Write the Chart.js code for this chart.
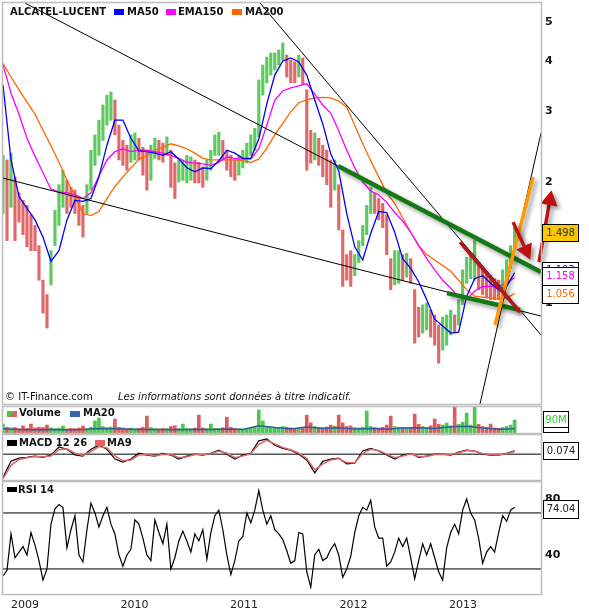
<!DOCTYPE html>
<html>
<head>
<meta charset="utf-8">
<title>ALCATEL-LUCENT</title>
<script src="https://cdn.jsdelivr.net/npm/chart.js@4.4.1/dist/chart.umd.min.js"></script>
<style>
  body { margin:0; background:#fff; }
  #wrap { position:relative; width:589px; height:615px; overflow:hidden; font-family:"DejaVu Sans", Verdana, sans-serif; color:#111; }
  #wrap canvas { position:absolute; left:0; top:0; }
  .t { position:absolute; white-space:nowrap; font-size:10px; line-height:12px; }
  .b { font-weight:bold; }
  .i { font-style:italic; }
  .sq { position:absolute; width:10px; height:6px; }
  .box { position:absolute; box-sizing:border-box; border:1px solid #000; background:#fff; font-size:10px; line-height:16px; text-align:center; color:#222; overflow:hidden; }
</style>
</head>
<body>
<div id="wrap">
  <canvas id="cPrice" width="589" height="615"></canvas>
  <canvas id="cVol" width="589" height="615"></canvas>
  <canvas id="cMacd" width="589" height="615"></canvas>
  <canvas id="cRsi" width="589" height="615"></canvas>

  <div class="t b" style="left:10px;top:6px">ALCATEL-LUCENT</div>
  <div class="sq" style="left:114px;top:9px;background:#0000ff"></div>
  <div class="t b" style="left:127px;top:6px">MA50</div>
  <div class="sq" style="left:166px;top:9px;background:#ff00ff"></div>
  <div class="t b" style="left:178px;top:6px">EMA150</div>
  <div class="sq" style="left:232px;top:9px;background:#ff6600"></div>
  <div class="t b" style="left:245px;top:6px">MA200</div>

  <div class="t" style="left:5px;top:391px">© IT-Finance.com</div>
  <div class="t i" style="left:118px;top:391px">Les informations sont données à titre indicatif.</div>

  <div class="box" style="left:542px;top:224px;width:37px;height:18px;background:#ffc600;color:#333">1.498</div>
  <div class="box" style="left:542px;top:262px;width:37px;height:18px;line-height:13px;color:#0000ff">1.193</div>
  <div class="box" style="left:542px;top:267px;width:37px;height:19px;color:#ff00ff">1.158</div>
  <div class="box" style="left:542px;top:285px;width:37px;height:19px;color:#ff6600">1.056</div>

  <div class="sq" style="left:7px;top:411px;background:linear-gradient(135deg,#44c844 50%,#e06060 50%)"></div>
  <div class="t b" style="left:19px;top:407px">Volume</div>
  <div class="sq" style="left:70px;top:411px;background:#3465a4"></div>
  <div class="t b" style="left:83px;top:407px">MA20</div>
  <div class="box" style="left:543px;top:411px;width:26px;height:17px;line-height:15px;color:#33cc33">90M</div>
  <div class="box" style="left:543px;top:427px;width:26px;height:6px"></div>

  <div class="sq" style="left:7px;top:440px;background:#000"></div>
  <div class="t b" style="left:19px;top:437px">MACD 12 26</div>
  <div class="sq" style="left:95px;top:440px;background:#e06666"></div>
  <div class="t b" style="left:107px;top:437px">MA9</div>
  <div class="box" style="left:543px;top:442px;width:36px;height:18px">0.074</div>

  <div class="sq" style="left:7px;top:487px;height:5px;background:#000"></div>
  <div class="t b" style="left:18px;top:484px">RSI 14</div>
  <div class="box" style="left:543px;top:500px;width:36px;height:19px">74.04</div>
</div>

<script>
// time axis in decimal years, one bar every ~13 days
const T0 = 2008.80, STEP = 0.0365;
const XMIN = 2008.80, XMAX = 2013.713;

// price range of each bar (EUR)
const hi = [
  2.33,2.27,2.36,2.06,1.88,1.80,1.75,1.66,1.56,1.39,
  1.14,1.05,1.35,1.70,1.97,2.14,2.02,1.94,1.91,1.84,
  1.75,1.97,2.40,2.62,2.85,3.11,3.29,3.35,3.20,2.77,
  2.54,2.47,2.62,2.65,2.57,2.44,2.40,2.47,2.57,2.54,
  2.50,2.59,2.40,2.23,2.27,2.27,2.33,2.31,2.27,2.24,
  2.18,2.27,2.40,2.62,2.66,2.54,2.40,2.33,2.27,2.33,
  2.40,2.50,2.62,2.72,3.59,3.91,4.09,4.19,4.19,4.26,
  4.44,4.14,4.02,3.98,4.14,4.07,3.39,2.69,2.65,2.57,
  2.47,2.40,2.27,2.27,1.97,1.52,1.32,1.35,1.32,1.43,
  1.56,1.75,1.94,1.88,1.82,1.77,1.66,1.29,1.35,1.35,
  1.32,1.33,1.29,1.08,0.977,0.99,1.00,0.961,0.934,0.882,
  0.923,0.934,0.961,0.934,1.02,1.21,1.30,1.32,1.43,1.26,
  1.22,1.19,1.17,1.15,1.14,1.21,1.28,1.39,1.54
];
const lo = [
  1.67,1.43,1.73,1.43,1.59,1.48,1.38,1.35,1.35,1.14,
  0.944,0.867,1.11,1.39,1.56,1.73,1.67,1.73,1.67,1.56,
  1.46,1.67,1.91,2.20,2.33,2.54,2.77,2.85,2.62,2.27,
  2.20,2.14,2.24,2.27,2.27,2.08,1.91,2.02,2.29,2.27,
  2.24,2.33,1.94,1.82,2.00,2.02,1.99,2.02,1.99,1.99,
  1.94,2.02,2.14,2.33,2.33,2.27,2.14,2.06,2.02,2.08,
  2.17,2.23,2.33,2.40,2.59,3.29,3.53,3.69,3.80,3.91,
  4.02,3.65,3.53,3.53,3.65,3.49,2.14,2.23,2.27,2.20,
  2.06,1.97,1.73,1.91,1.52,1.10,1.14,1.10,1.17,1.26,
  1.39,1.48,1.67,1.67,1.61,1.54,1.32,1.08,1.11,1.12,
  1.14,1.16,1.12,0.795,0.823,0.842,0.857,0.823,0.786,0.709,
  0.764,0.786,0.833,0.842,0.882,0.99,1.12,1.15,1.14,1.08,
  1.05,1.03,1.02,1.02,1.02,1.08,1.13,1.22,1.35
];

// moving averages, one value every 2 bars
const ma50 = [
  3.49,2.27,1.84,1.72,1.61,1.46,1.27,1.35,1.61,1.80,
  1.79,1.82,2.06,2.47,2.85,2.85,2.57,2.39,2.38,2.36,
  2.33,2.38,2.28,2.17,2.12,2.17,2.16,2.26,2.40,2.36,
  2.29,2.29,2.56,3.13,3.69,4.00,4.07,3.98,3.69,3.20,
  2.79,2.35,2.13,1.67,1.38,1.28,1.49,1.69,1.68,1.50,
  1.29,1.22,1.13,1.02,0.912,0.877,0.842,0.847,1.04,1.15,
  1.17,1.12,1.08,1.10,1.19
];
const ema150 = [
  3.91,3.33,2.95,2.57,2.32,2.11,1.92,1.89,1.88,1.86,
  1.82,1.88,2.07,2.27,2.38,2.42,2.38,2.40,2.40,2.38,
  2.36,2.33,2.29,2.24,2.23,2.22,2.20,2.24,2.31,2.29,
  2.28,2.28,2.42,2.77,3.20,3.37,3.43,3.47,3.51,3.31,
  3.11,2.97,2.68,2.40,2.17,2.00,1.90,1.86,1.78,1.68,
  1.60,1.50,1.39,1.29,1.21,1.14,1.09,1.035,1.023,1.07,
  1.10,1.10,1.10,1.12,1.158
];
const ma200 = [
  3.95,3.65,3.39,3.16,2.95,2.69,2.46,2.24,2.02,1.85,
  1.67,1.65,1.69,1.82,1.95,2.06,2.17,2.28,2.33,2.40,
  2.44,2.49,2.46,2.42,2.36,2.29,2.27,2.27,2.27,2.27,
  2.26,2.24,2.28,2.43,2.62,2.80,2.99,3.15,3.20,3.24,
  3.25,3.24,3.18,3.07,2.77,2.49,2.26,2.06,1.88,1.77,
  1.63,1.50,1.39,1.32,1.28,1.24,1.20,1.14,1.08,1.04,
  1.035,1.03,1.023,1.03,1.056
];

// volume in millions, one per bar; MA20 every 4 bars
const vol = [
  62,40,35,38,30,50,32,62,35,40,
  38,55,36,30,34,48,28,32,30,35,
  48,30,40,83,103,45,38,42,97,40,
  36,30,34,28,32,40,117,38,30,28,
  32,30,45,50,32,62,30,28,34,124,
  35,30,62,32,30,36,110,40,32,30,
  28,30,32,40,159,83,45,40,35,38,
  45,40,36,32,34,40,124,70,45,40,
  38,42,55,48,124,70,45,50,38,35,
  40,152,45,38,35,40,55,117,45,40,
  36,34,40,131,60,45,40,50,97,60,
  55,69,50,180,60,75,138,55,180,60,
  45,40,62,35,32,38,45,55,90
];
const volMa20 = [
  30,25,22,24,22,24,32,30,26,24,
  25,22,26,24,27,24,50,38,28,42,
  32,36,28,32,26,34,36,32,44,46,
  34,26,30
];

// MACD 12 26 and its MA9, one value every 2 bars
const macd = [
  -0.52,-0.16,-0.09,-0.07,-0.045,-0.07,-0.02,0.16,0.11,-0.02,
  -0.045,0.11,0.20,0.11,-0.11,-0.18,-0.11,0.02,-0.02,-0.045,
  0.02,-0.02,-0.11,-0.045,0,-0.02,0.02,0.09,0,-0.11,
  -0.02,0.02,0.30,0.34,0.20,0.13,0.09,0,-0.13,-0.42,
  -0.16,-0.11,-0.09,-0.22,-0.20,0.07,0.13,0.07,-0.02,-0.11,
  -0.02,0.02,-0.07,-0.045,0,0,-0.02,0.045,0.09,0.07,
  0,-0.02,-0.02,0.02,0.074
];
const macdMa9 = [
  -0.55,-0.25,-0.12,-0.08,-0.05,-0.06,-0.04,0.10,0.12,0.02,
  -0.03,0.06,0.17,0.14,-0.04,-0.15,-0.13,-0.02,-0.01,-0.04,
  0.0,-0.01,-0.08,-0.06,-0.01,-0.01,0.01,0.07,0.02,-0.08,
  -0.04,0.01,0.22,0.31,0.23,0.15,0.10,0.02,-0.10,-0.35,
  -0.22,-0.13,-0.10,-0.19,-0.20,0.02,0.11,0.08,0.0,-0.08,
  -0.04,0.01,-0.05,-0.05,-0.01,0.0,-0.01,0.03,0.08,0.07,
  0.01,-0.01,-0.02,0.01,0.06
];

// RSI 14, one per bar
const rsi = [
  25,29,55,38,42,46,40,56,47,36,
  22,30,62,73,76,74,45,58,68,40,
  35,58,77,70,60,68,74,62,55,40,
  32,40,44,65,62,52,40,36,65,56,
  48,62,30,38,50,57,50,42,55,50,
  58,37,56,68,72,58,40,26,36,50,
  53,70,63,72,86,72,62,68,58,55,
  51,43,34,36,56,55,28,17,40,44,
  36,38,44,48,40,24,30,39,56,68,
  74,72,79,60,52,52,32,35,42,52,
  46,52,38,23,36,48,40,48,38,28,
  22,45,56,62,55,72,80,70,65,52,
  34,42,46,42,56,68,64,72,74.04
];

const years = [2009, 2010, 2011, 2012, 2013];
const priceTicks = [1, 2, 3, 4, 5];
const rsiTicks = [40, 80];
const rsiLevels = [30, 70];

// trend lines drawn on the price chart: [year0, price0, year1, price1]
const thinLines = [
  [2008.80, 2.046, 2013.713, 0.928],
  [2009.00, 5.577, 2011.859, 2.192],
  [2011.147, 5.577, 2013.713, 0.833],
  [2013.156, 0.561, 2013.713, 2.648]
];
const greenLines = [
  [2011.859, 2.192, 2013.713, 1.194],
  [2012.855, 1.059, 2013.521, 0.961]
];
const redLine = [2012.974, 1.418, 2013.521, 0.950];
const orangeLine = [2013.293, 0.882, 2013.640, 2.058];
const arrows = [
  [2013.458, 1.59, 2013.558, 1.386],
  [2013.695, 1.265, 2013.786, 1.753]
];

Chart.defaults.font.family = 'DejaVu Sans';

const up = hi.map((h, i) => i === 0 || h + lo[i] >= hi[i - 1] + lo[i - 1]);
const barColors = up.map(u => u ? '#5cca5c' : '#e06868');
const volColors = up.map(u => u ? '#4cc84c' : '#e05c5c');

const pts = (arr, every) => arr.map((v, i) => ({ x: T0 + i * every * STEP, y: v }));
const seg = a => [{ x: a[0], y: a[1] }, { x: a[2], y: a[3] }];
const hline = v => [{ x: XMIN, y: v }, { x: XMAX, y: v }];

function line(data, color, width, extra) {
  return Object.assign({ type: 'line', data, borderColor: color, borderWidth: width, pointRadius: 0, tension: 0, fill: false }, extra || {});
}

function setShadow(ctx) {
  ctx.shadowColor = 'rgba(0,0,0,0.4)';
  ctx.shadowBlur = 4;
  ctx.shadowOffsetX = 3;
  ctx.shadowOffsetY = 3;
}

const shadowPlugin = {
  id: 'shadow',
  beforeDatasetDraw(chart, args) {
    if (chart.data.datasets[args.index].shadow) { chart.ctx.save(); setShadow(chart.ctx); }
  },
  afterDatasetDraw(chart, args) {
    if (chart.data.datasets[args.index].shadow) chart.ctx.restore();
  }
};

const arrowPlugin = {
  id: 'arrowHead',
  afterDatasetDraw(chart, args) {
    const ds = chart.data.datasets[args.index];
    if (!ds.arrow) return;
    const [a, b] = args.meta.data;
    const ang = Math.atan2(b.y - a.y, b.x - a.x);
    const dx = Math.cos(ang), dy = Math.sin(ang);
    const ctx = chart.ctx;
    ctx.save();
    setShadow(ctx);
    ctx.fillStyle = ds.borderColor;
    ctx.beginPath();
    ctx.moveTo(b.x + dx * 15, b.y + dy * 15);
    ctx.lineTo(b.x - dy * 8.5, b.y + dx * 8.5);
    ctx.lineTo(b.x + dy * 8.5, b.y - dx * 8.5);
    ctx.closePath();
    ctx.fill();
    ctx.restore();
  }
};

const framePlugin = {
  id: 'frame',
  afterDraw(chart) {
    const { ctx, chartArea: a } = chart;
    ctx.save();
    ctx.strokeStyle = '#bdbdbd';
    ctx.lineWidth = 1.5;
    ctx.strokeRect(a.left - 0.5, a.top - 0.5, a.right - a.left + 1, a.bottom - a.top + 1);
    ctx.restore();
  }
};

const plugins = [shadowPlugin, arrowPlugin, framePlugin];

function baseOptions(padding, scales) {
  return {
    responsive: false, animation: false, events: [],
    layout: { padding },
    plugins: { legend: { display: false }, tooltip: { enabled: false } },
    scales
  };
}

const hiddenX = { type: 'linear', min: XMIN, max: XMAX, display: false, offset: false };

function rightAxis(ticks, more) {
  return Object.assign({
    position: 'right',
    grid: { display: false, drawTicks: false },
    border: { display: false },
    afterBuildTicks: s => { s.ticks = ticks.map(v => ({ value: v })); },
    afterFit: s => { s.width = 48; s.paddingTop = 0; s.paddingBottom = 0; },
    ticks: { padding: 4, color: '#111', autoSkip: false, font: { size: 11, weight: 'bold' }, callback: v => String(v) }
  }, more);
}

// ---- price panel ----
new Chart(document.getElementById('cPrice'), {
  type: 'bar',
  data: {
    datasets: [
      { type: 'bar', data: hi.map((h, i) => ({ x: T0 + i * STEP, y: [lo[i], h] })), backgroundColor: barColors, barThickness: 2.5, order: 10 },
      line(pts(ma200, 2), '#ff6600', 1.3, { order: 7 }),
      line(pts(ema150, 2), '#ff00ff', 1.3, { order: 6 }),
      line(pts(ma50, 2), '#0000ff', 1.3, { order: 5 }),
      ...thinLines.map(l => line(seg(l), '#000', 1, { order: 4 })),
      ...greenLines.map(l => line(seg(l), '#137a13', 4.5, { order: 3, shadow: true })),
      line(seg(redLine), '#b51616', 3.5, { order: 2, shadow: true }),
      line(seg(orangeLine), '#ff9900', 3.5, { order: 2, shadow: true }),
      ...arrows.map(l => line(seg(l), '#bb1111', 3.5, { order: 1, shadow: true, arrow: true, clip: false }))
    ]
  },
  options: baseOptions({ left: 3, top: 3, right: 0, bottom: 211 }, {
    x: hiddenX,
    y: rightAxis(priceTicks, { type: 'logarithmic', min: 0.561, max: 5.577 })
  }),
  plugins
});

// ---- volume panel ----
new Chart(document.getElementById('cVol'), {
  type: 'bar',
  data: {
    datasets: [
      line(pts(volMa20, 4), '#2f5f9a', 1.5, { order: 1 }),
      { type: 'bar', data: vol.map((v, i) => ({ x: T0 + i * STEP, y: v })), backgroundColor: volColors, barThickness: 3, order: 2 }
    ]
  },
  options: baseOptions({ left: 3, top: 407, right: 48, bottom: 182 }, {
    x: hiddenX,
    y: { min: 0, max: 180, display: false }
  }),
  plugins
});

// ---- MACD panel ----
new Chart(document.getElementById('cMacd'), {
  type: 'line',
  data: {
    datasets: [
      line(hline(0), '#000', 1, { order: 3 }),
      line(pts(macd, 2), '#000', 1.2, { order: 2 }),
      line(pts(macdMa9, 2), '#e06666', 1.5, { order: 1 })
    ]
  },
  options: baseOptions({ left: 3, top: 435, right: 48, bottom: 135 }, {
    x: hiddenX,
    y: { min: -0.58, max: 0.43, display: false }
  }),
  plugins
});

// ---- RSI panel ----
new Chart(document.getElementById('cRsi'), {
  type: 'line',
  data: {
    datasets: [
      ...rsiLevels.map(v => line(hline(v), '#000', 1, { order: 2 })),
      line(pts(rsi, 1), '#000', 1.2, { order: 1 })
    ]
  },
  options: baseOptions({ left: 3, top: 482, right: 0, bottom: 1 }, {
    x: {
      type: 'linear', min: XMIN, max: XMAX, offset: false,
      grid: { display: false, drawTicks: false },
      border: { display: false },
      afterBuildTicks: s => { s.ticks = years.map(v => ({ value: v })); },
      afterFit: s => { s.height = 20; s.paddingLeft = 0; s.paddingRight = 0; },
      ticks: { padding: 5, color: '#222', autoSkip: false, maxRotation: 0, font: { size: 11 }, callback: v => String(v) }
    },
    y: rightAxis(rsiTicks, { min: 12.1, max: 92.1 })
  }),
  plugins
});
</script>
</body>
</html>
